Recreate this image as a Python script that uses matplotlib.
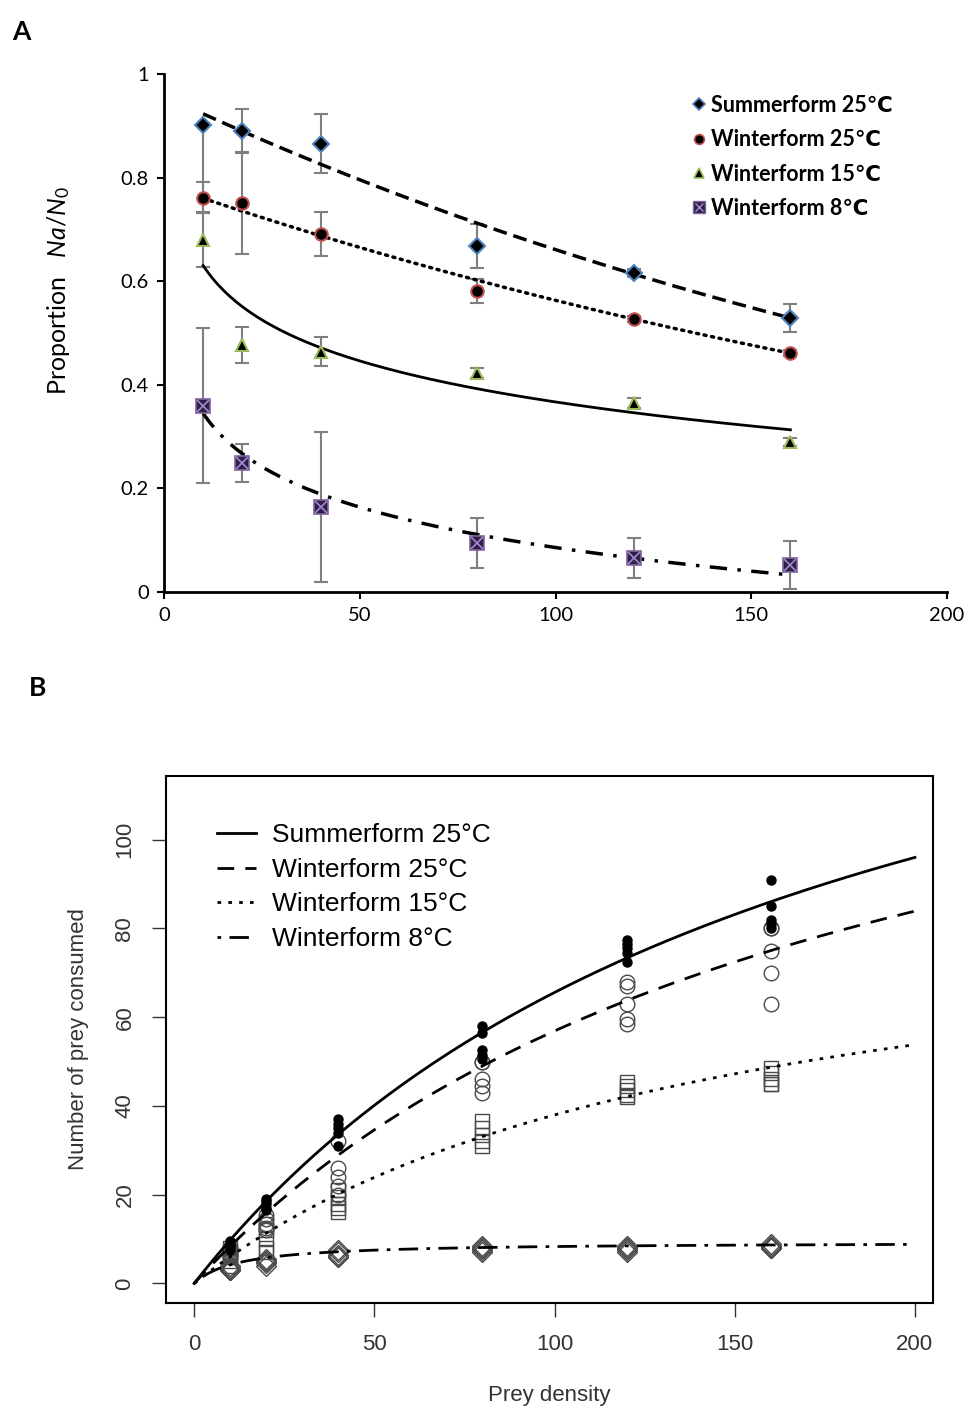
import numpy as np
import matplotlib.pyplot as plt
from matplotlib.lines import Line2D

plt.rcParams['mathtext.fontset'] = 'custom'
plt.rcParams['mathtext.rm'] = 'Lato'
plt.rcParams['mathtext.it'] = 'Lato:italic'

density = [10, 20, 40, 80, 120, 160]

# ---- panel A : proportion eaten (mean, error) ----
sum25 = [0.901, 0.890, 0.865, 0.668, 0.616, 0.529]
sum25_lo = [0.17, 0.042, 0.057, 0.042, 0.008, 0.027]
sum25_hi = [0.0, 0.042, 0.057, 0.042, 0.008, 0.027]
win25 = [0.761, 0.751, 0.691, 0.581, 0.527, 0.461]
win25_err = [0.03, 0.098, 0.042, 0.024, 0.006, 0.006]
win15 = [0.680, 0.477, 0.464, 0.423, 0.365, 0.290]
win15_err = [0.053, 0.035, 0.028, 0.010, 0.010, 0.008]
win8 = [0.360, 0.249, 0.164, 0.095, 0.066, 0.052]
win8_err = [0.15, 0.036, 0.145, 0.048, 0.038, 0.046]

# trendlines
sum25_fit = [0.958, -0.003711]      # a*exp(b*N)
win25_fit = [0.7858, -0.003333]     # a*exp(b*N)
win15_fit = [-0.1143, 0.8933]       # a*ln(N)+b
win8_fit = [-0.1125, 0.604]         # a*ln(N)+b

# ---- panel B : replicate counts ----
b_sum25 = [[9.5, 9, 8.5, 8, 7.5], [19, 18.5, 18, 17, 16.5], [37, 36, 35, 34, 31],
           [58, 56.5, 52.5, 51.5, 50.5], [77.5, 76.5, 75.5, 74.5, 72.5], [91, 85, 82, 81, 80]]
b_win25 = [[8, 7.5, 7, 6.5, 6], [15.5, 14.5, 13.5, 12.5, 12], [32, 26, 24, 22, 20],
           [50, 50, 46, 44.5, 43], [68, 67, 63, 59.5, 58.5], [80, 80, 75, 70, 63]]
b_win15 = [[8, 7, 6, 5, 4], [13.5, 12, 10, 8, 7], [21, 19.5, 18, 17, 16],
           [36.5, 35, 33.5, 32, 31], [45.5, 44.5, 43.5, 42.5, 42], [48.5, 47.5, 46, 45, 45]]
b_win8 = [[4, 3.5, 3, 3, 3], [5.5, 5, 5, 4.5, 4], [7.5, 7, 6.5, 6, 6],
          [8.5, 8, 8, 7.5, 7], [8.5, 8, 8, 7.5, 7], [9, 8.5, 8, 8, 8]]

# type II fits  a*N/(1+b*N)
b_fits = [[1.0343, 0.005774], [0.8835, 0.00553], [0.6452, 0.006993], [0.764, 0.0818]]
b_labels = ['Summerform 25°C', 'Winterform 25°C', 'Winterform 15°C', 'Winterform 8°C']

fig = plt.figure(figsize=(9.77, 14.12), dpi=100)

# ================= A =================
axA = fig.add_axes([0.1679, 0.5807, 0.8014, 0.3669])
axA.set_xlim(0, 200)
axA.set_ylim(0, 1)
for s in ['top', 'right']:
    axA.spines[s].set_visible(False)
for s in ['left', 'bottom']:
    axA.spines[s].set_linewidth(2)
axA.tick_params(direction='out', width=1.5, length=5, labelsize=14.5, pad=6)
axA.set_xticks([0, 50, 100, 150, 200])
axA.set_yticks([0, 0.2, 0.4, 0.6, 0.8, 1])
axA.set_yticklabels(['0', '0.2', '0.4', '0.6', '0.8', '1'])
for lab in axA.get_xticklabels() + axA.get_yticklabels():
    lab.set_family('Lato')

ecol = '#7f7f7f'
axA.errorbar(density, sum25, yerr=[sum25_lo, sum25_hi], fmt='none', ecolor=ecol, elinewidth=1.5, capsize=5, capthick=1.5)
axA.errorbar(density, win25, yerr=win25_err, fmt='none', ecolor=ecol, elinewidth=1.5, capsize=5, capthick=1.5)
axA.errorbar(density, win15, yerr=win15_err, fmt='none', ecolor=ecol, elinewidth=1.5, capsize=5, capthick=1.5)
axA.errorbar(density, win8, yerr=win8_err, fmt='none', ecolor=ecol, elinewidth=1.5, capsize=5, capthick=1.5)

N = np.linspace(10, 160, 200)
axA.plot(N, sum25_fit[0] * np.exp(sum25_fit[1] * N), color='black', lw=2.5, ls=(0, (4, 2)), zorder=3)
axA.plot(N, win25_fit[0] * np.exp(win25_fit[1] * N), color='black', lw=2.5, ls=(0, (0.6, 1.6)), dash_capstyle='round', zorder=3)
axA.plot(N, win15_fit[0] * np.log(N) + win15_fit[1], color='black', lw=2, ls='-', zorder=3)
axA.plot(N, win8_fit[0] * np.log(N) + win8_fit[1], color='black', lw=2.5, ls=(0, (5, 3, 1, 3)), zorder=3)

m1, = axA.plot(density, sum25, 'D', ms=8, mfc='black', mec='#4f81bd', mew=1.5, ls='none', zorder=4)
m2, = axA.plot(density, win25, 'o', ms=9, mfc='black', mec='#c0504d', mew=1.5, ls='none', zorder=4)
m3, = axA.plot(density, win15, '^', ms=9, mfc='black', mec='#9bbb59', mew=1.5, ls='none', zorder=4)
m4, = axA.plot(density, win8, 's', ms=10, mfc='#2e2141', mec='#8064a2', mew=1.2, ls='none', zorder=4)
m4x, = axA.plot(density, win8, 'x', ms=8, mec='#a58ad8', mew=1.2, ls='none', zorder=5)

# smaller markers for the legend keys
k1 = Line2D([], [], marker='D', ms=6, mfc='black', mec='#4f81bd', mew=1.2, ls='none')
k2 = Line2D([], [], marker='o', ms=7, mfc='black', mec='#c0504d', mew=1.2, ls='none')
k3 = Line2D([], [], marker='^', ms=7, mfc='black', mec='#9bbb59', mew=1.2, ls='none')
k4 = Line2D([], [], marker='s', ms=8, mfc='#2e2141', mec='#8064a2', mew=1, ls='none')
k4x = Line2D([], [], marker='x', ms=6, mec='#a58ad8', mew=1, ls='none')

legA = axA.legend([k1, k2, k3, (k4, k4x)],
                  ['Summerform 25℃', 'Winterform 25℃', 'Winterform 15℃', 'Winterform 8℃'],
                  loc='upper right', bbox_to_anchor=(0.955, 0.997), frameon=False,
                  handlelength=0.6, handletextpad=0.25, labelspacing=0.62,
                  prop={'family': ['Lato', 'DejaVu Sans'], 'weight': 'bold', 'size': 15.5})

axA.set_ylabel('Proportion   $\\mathit{Na/N}_{\\mathrm{0}}$', fontsize=18, family='Lato')
axA.yaxis.set_label_coords(-0.118, 0.583)

fig.text(0.012, 0.986, 'A', fontsize=19, fontweight='bold', family='Lato', va='top')
fig.text(0.030, 0.521, 'B', fontsize=19, fontweight='bold', family='Lato', va='top')

# ================= B =================
axB = fig.add_axes([0.1699, 0.0772, 0.785, 0.3734])
axB.set_xlim(-7.8, 205)
axB.set_ylim(-4.4, 114.4)
for s in axB.spines.values():
    s.set_linewidth(1.5)
axB.set_xticks([0, 50, 100, 150, 200])
axB.set_yticks([0, 20, 40, 60, 80, 100])
axB.tick_params(direction='out', length=10, width=1, labelsize=16, pad=12, colors='#333333')
for lab in axB.get_yticklabels():
    lab.set_rotation(90)
    lab.set_va('center')
for lab in axB.get_xticklabels() + axB.get_yticklabels():
    lab.set_family('Liberation Sans')

pcol = '#4a4a4a'
for i, d in enumerate(density):
    axB.plot([d] * len(b_win8[i]), b_win8[i], 'D', ms=10, mfc='none', mec=pcol, mew=1, ls='none')
    axB.plot([d] * len(b_win15[i]), b_win15[i], 's', ms=9.5, mfc='none', mec=pcol, mew=1, ls='none')
    axB.plot([d] * len(b_win25[i]), b_win25[i], 'o', ms=10.5, mfc='none', mec=pcol, mew=1, ls='none')
    axB.plot([d] * len(b_sum25[i]), b_sum25[i], 'o', ms=6.5, mfc='black', mec='black', ls='none')

Nb = np.linspace(0, 200, 300)
styles = ['-', (0, (6, 4)), (0, (1.3, 2.6)), (0, (1.3, 3, 7, 3))]
handles = []
for (a, b), st in zip(b_fits, styles):
    ln, = axB.plot(Nb, a * Nb / (1 + b * Nb), color='black', lw=2, ls=st)
    handles.append(ln)

axB.legend(handles, b_labels, loc='upper left', bbox_to_anchor=(0.035, 0.955), frameon=False,
           handlelength=1.5, handletextpad=0.6, labelspacing=0.4,
           prop={'family': 'Liberation Sans', 'size': 19})

axB.set_xlabel('Prey density', fontsize=16, family='Liberation Sans', labelpad=22, color='#333333')
axB.set_ylabel('Number of prey consumed', fontsize=16, family='Liberation Sans', labelpad=18, color='#333333')

fig.savefig('out.png', dpi=100, facecolor='white')
